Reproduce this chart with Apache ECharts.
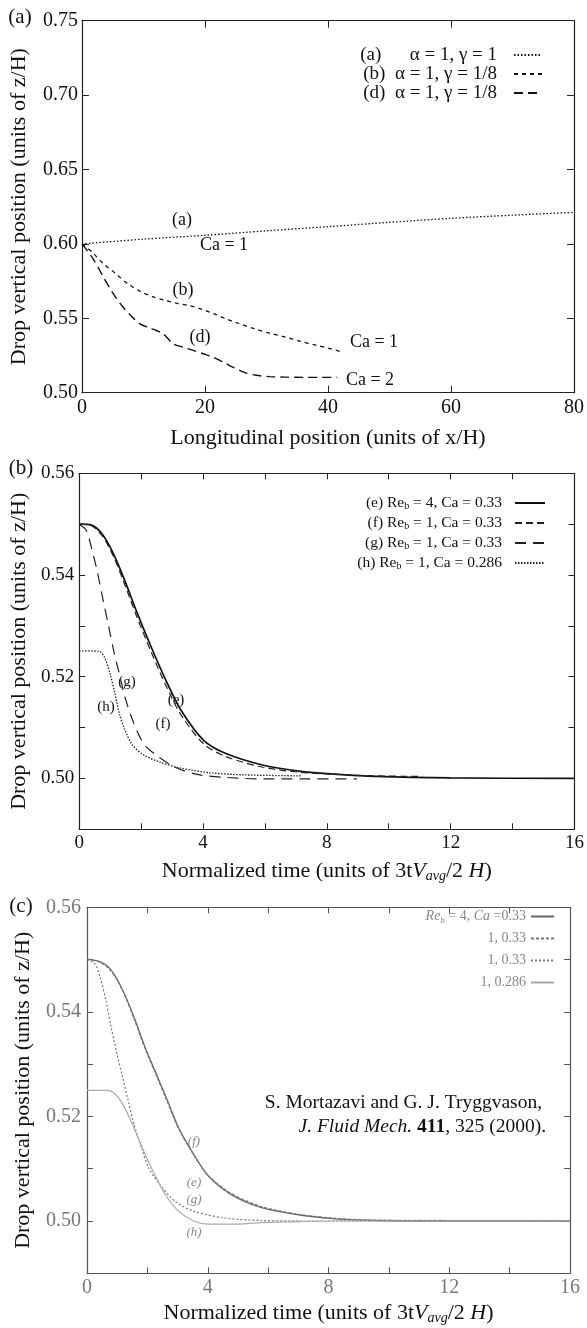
<!DOCTYPE html>
<html><head><meta charset="utf-8">
<script src="https://cdn.jsdelivr.net/npm/echarts@6/dist/echarts.min.js"></script>
<style>html,body{margin:0;padding:0;background:#fff}#c{width:587px;height:1328px}</style>
</head><body><div id="c"></div>
<script>
// ---------- Panel (a) data ----------
const aX_a = [0,10,20,30,40,50,60,70,80];
const aY_a = [0.600,0.6032,0.6058,0.6088,0.6116,0.6145,0.6172,0.6193,0.6212];
const aX_b = [0,1.5,3.5,5.5,7.5,9.5,11.5,13.5,15.5,17.5,19.5,21.5,23.5,25.5,28,30.5,33,35.5,38,40.5,42.5];
const aY_b = [0.600,0.5950,0.5866,0.5800,0.5730,0.5680,0.5645,0.5620,0.5600,0.5585,0.5560,0.5530,0.5495,0.5465,0.5430,0.5400,0.5375,0.5345,0.5320,0.5295,0.5270];
const aX_d = [0,1.8,3.5,5.1,6.7,8,9.4,11,12.1,13.2,14.8,16.5,18.1,19.7,21.3,23,24.5,26.5,28.3,30.5,33,36,39,41.5];
const aY_d = [0.600,0.590,0.5776,0.5664,0.5574,0.5515,0.5463,0.5435,0.5418,0.5396,0.5330,0.5305,0.5284,0.5262,0.5239,0.5205,0.5172,0.5135,0.5117,0.5108,0.5105,0.5103,0.5103,0.5103];
// ---------- Panel (b) data ----------
const bX_e = [0,0.4,0.76,1.12,1.48,1.85,2.33,2.81,3.29,4.02,4.74,5.95,7.16,8.36,9.57,12,16];
const bY_e = [0.550,0.5498,0.5479,0.544,0.5388,0.5329,0.5258,0.5192,0.5134,0.5075,0.5049,0.5026,0.5014,0.5008,0.5004,0.5001,0.500];
const bX_f = [0,0.4,0.76,1.12,1.48,1.85,2.33,2.81,3.29,4.02,4.74,5.95,7.16,8.36,9.57,11.1];
const bY_f = [0.550,0.5497,0.5476,0.5435,0.538,0.532,0.5248,0.5182,0.5125,0.5068,0.5043,0.5022,0.5012,0.5008,0.5005,0.5004];
const bX_g = [0,0.22,0.40,0.58,0.76,0.94,1.12,1.30,1.48,1.73,2.09,2.57,3.17,3.90,4.74,5.95,7.16,8.97];
const bY_g = [0.5499,0.5489,0.5453,0.5408,0.5355,0.5303,0.525,0.5205,0.516,0.5114,0.5068,0.5042,0.502,0.5007,0.5002,0.4999,0.4999,0.4999];
const bX_h = [0,0.64,0.82,1.0,1.16,1.30,1.48,1.73,2.09,2.57,3.29,4.26,5.35,7.16];
const bY_h = [0.5251,0.525,0.5238,0.5205,0.5166,0.5127,0.5095,0.5065,0.5046,0.5033,0.502,0.5011,0.5007,0.5005];
// ---------- Panel (c) data ----------
const cX_e = [0,0.43,0.80,1.18,1.55,1.92,2.29,2.66,3.03,3.53,4.02,4.77,5.76,7.0,8.24,9.47,12,16];
const cY_e = [0.5501,0.5496,0.548,0.5442,0.5391,0.5333,0.5282,0.5231,0.5179,0.5128,0.5086,0.5051,0.5026,0.5012,0.5004,0.5001,0.5,0.5];
const cX_f = [0,0.43,0.80,1.18,1.55,1.92,2.29,2.66,3.03,3.53,4.02,4.77,5.76,7.0,8.24,9.47,12,16];
const cY_f = [0.550,0.5495,0.5478,0.5440,0.5388,0.5330,0.5279,0.5228,0.5177,0.5127,0.5087,0.5053,0.5028,0.5013,0.5005,0.5002,0.5001,0.5];
const cX_g = [0,0.25,0.43,0.62,0.80,0.99,1.18,1.36,1.55,1.80,2.04,2.41,2.91,3.53,4.52,5.76,8,12,16];
const cY_g = [0.550,0.5493,0.5467,0.5423,0.5371,0.532,0.5275,0.5231,0.5186,0.5141,0.5102,0.507,0.5038,0.5019,0.5006,0.5001,0.5,0.5,0.5];
const cX_h = [0,0.68,0.93,1.18,1.55,1.92,2.29,2.66,3.03,3.53,4.02,4.77,5.76,7.0,8.24,12,16];
const cY_h = [0.525,0.525,0.5243,0.5224,0.5179,0.5128,0.5083,0.5045,0.5019,0.500,0.4994,0.4994,0.4997,0.4999,0.5,0.5,0.5];

const FONT = 'Liberation Serif';
const zip = (xs, ys) => xs.map((x, i) => [x, ys[i]]);

const grids = [
  {left: 82, top: 20.7, width: 493, height: 372},
  {left: 77.5, top: 473.3, width: 497.5, height: 356},
  {left: 87, top: 907.3, width: 483, height: 366}
];

const subRich = {
  i: {fontStyle: 'italic', fontFamily: FONT, fontSize: 22, color: '#111', lineHeight: 24},
  s: {fontStyle: 'italic', fontFamily: FONT, fontSize: 14, color: '#111', lineHeight: 14, verticalAlign: 'bottom'}
};

function makeAxes(gi, cfg) {
  const xs = [], ys = [];
  const lineC = cfg.lineColor, labC = cfg.labelColor;
  const common = {min: cfg.xMin, max: cfg.xMax, interval: cfg.xInt, type: 'value', gridIndex: gi,
    splitLine: {show: false},
    axisLine: {show: true, onZero: false, lineStyle: {color: lineC, width: 1.2}},
    axisTick: {show: true, inside: true, length: cfg.tick, lineStyle: {color: lineC, width: 1}}};
  xs.push(Object.assign({}, common, {position: 'bottom',
    axisLabel: {show: true, color: labC, fontFamily: FONT, fontSize: cfg.fs, margin: cfg.xMargin, formatter: cfg.xFmt},
    name: cfg.xName, nameLocation: 'middle', nameGap: cfg.xGap,
    nameTextStyle: {fontFamily: FONT, fontSize: 22, color: '#111', rich: subRich, lineHeight: 24}}));
  xs.push(Object.assign({}, common, {position: 'top', axisLabel: {show: false}}));
  const ycommon = {min: cfg.yMin, max: cfg.yMax, interval: cfg.yInt, type: 'value', gridIndex: gi,
    splitLine: {show: false},
    axisLine: {show: true, onZero: false, lineStyle: {color: lineC, width: 1.2}},
    axisTick: {show: true, inside: true, length: cfg.tick, lineStyle: {color: lineC, width: 1}}};
  ys.push(Object.assign({}, ycommon, {position: 'left',
    axisLabel: {show: true, color: labC, fontFamily: FONT, fontSize: cfg.fs, margin: cfg.yMargin, formatter: cfg.yFmt},
    name: 'Drop vertical position (units of z/H)', nameLocation: 'middle', nameGap: cfg.yGap,
    nameTextStyle: {fontFamily: FONT, fontSize: 22, color: '#111'}}));
  ys.push(Object.assign({}, ycommon, {position: 'right', axisLabel: {show: false}}));
  return {xs, ys};
}

const evenFmt = () => (v) => { const r = Math.round(v * 100); return (r % 2 === 0) ? (r / 100).toFixed(2) : ''; };
const ax0 = makeAxes(0, {xMin: 0, xMax: 80, xInt: 20, yMin: 0.5, yMax: 0.75, yInt: 0.05, tick: 7, fs: 20,
  lineColor: '#222', labelColor: '#111', xMargin: 5, yMargin: 4,
  xFmt: v => String(Math.round(v)), yFmt: v => v.toFixed(2),
  xName: 'Longitudinal position (units of x/H)', xGap: 34, yGap: 52});
const ax1 = makeAxes(1, {xMin: 0, xMax: 16, xInt: 2, yMin: 0.49, yMax: 0.56, yInt: 0.01, tick: 6, fs: 19,
  lineColor: '#222', labelColor: '#111', xMargin: 4, yMargin: 5,
  xFmt: v => (Math.round(v) % 4 === 0 ? String(Math.round(v)) : ''), yFmt: evenFmt(),
  xName: 'Normalized time (units of 3t{i|V}{s|avg}/2{i| H})', xGap: 30, yGap: 46});
const ax2 = makeAxes(2, {xMin: 0, xMax: 16, xInt: 2, yMin: 0.49, yMax: 0.56, yInt: 0.01, tick: 6, fs: 20,
  lineColor: '#555', labelColor: '#777', xMargin: 4, yMargin: 6,
  xFmt: v => (Math.round(v) % 4 === 0 ? String(Math.round(v)) : ''), yFmt: evenFmt(),
  xName: 'Normalized time (units of 3t{i|V}{s|avg}/2{i| H})', xGap: 28, yGap: 53});

function ser(name, gi, xs, ys, color, width, type) {
  return {name, type: 'line', xAxisIndex: gi * 2, yAxisIndex: gi * 2, data: zip(xs, ys),
    showSymbol: false, symbol: 'none', smooth: 0.3, silent: true,
    lineStyle: {color, width, type}, itemStyle: {color}};
}

const series = [
  ser('sa', 0, aX_a, aY_a, '#111', 1.3, [1.5, 2]),
  ser('sb', 0, aX_b, aY_b, '#111', 1.3, [4, 4]),
  ser('sd', 0, aX_d, aY_d, '#111', 1.4, [9, 5]),
  ser('se', 1, bX_e, bY_e, '#111', 1.7, 'solid'),
  ser('sf', 1, bX_f, bY_f, '#222', 1.2, [7, 4]),
  ser('sg', 1, bX_g, bY_g, '#222', 1.2, [11, 7]),
  ser('sh', 1, bX_h, bY_h, '#222', 1.3, [1.5, 1.5]),
  ser('ce', 2, cX_e, cY_e, '#666', 1.3, 'solid'),
  ser('cf', 2, cX_f, cY_f, '#777', 1.2, [3, 2]),
  ser('cg', 2, cX_g, cY_g, '#777', 1.2, [2, 2]),
  ser('ch', 2, cX_h, cY_h, '#aaa', 1.2, 'solid')
];

const legendText = {
  sa: '(a)      α = 1, γ = 1',
  sb: '(b)  α = 1, γ = 1/8',
  sd: '(d)  α = 1, γ = 1/8',
  se: '(e) Re{s|b} = 4, Ca = 0.33',
  sf: '(f) Re{s|b} = 1, Ca = 0.33',
  sg: '(g) Re{s|b} = 1, Ca = 0.33',
  sh: '(h) Re{s|b} = 1, Ca = 0.286',
  ce: '{i|Re}{s|b} = 4, {i|Ca} =0.33',
  cf: '1, 0.33',
  cg: '1, 0.33',
  ch: '1, 0.286'
};
const fmt = n => legendText[n];

const legends = [
  {data: ['sa', 'sb', 'sd'], orient: 'vertical', align: 'right', right: 44, top: 45.5, padding: 0,
   itemWidth: 28, itemHeight: 12, itemGap: 0, formatter: fmt, selectedMode: false,
   itemStyle: {opacity: 0},
   textStyle: {fontFamily: FONT, fontSize: 19, color: '#111', lineHeight: 19, padding: [0, 12, 0, 0]}},
  {data: ['se', 'sf', 'sg', 'sh'], orient: 'vertical', align: 'right', right: 41, top: 494.5, padding: 0,
   itemWidth: 30, itemHeight: 14, itemGap: 3, formatter: fmt, selectedMode: false,
   itemStyle: {opacity: 0},
   textStyle: {fontFamily: FONT, fontSize: 15.5, color: '#111', lineHeight: 17, padding: [0, 8, 0, 0],
     rich: {s: {fontFamily: FONT, fontSize: 10, lineHeight: 10, verticalAlign: 'bottom', color: '#111'}}}},
  {data: ['ce', 'cf', 'cg', 'ch'], orient: 'vertical', align: 'right', right: 32, top: 907.5, padding: 0,
   itemWidth: 23, itemHeight: 14, itemGap: 4, formatter: fmt, selectedMode: false,
   itemStyle: {opacity: 0},
   textStyle: {fontFamily: FONT, fontSize: 14, color: '#888', lineHeight: 18,
     rich: {i: {fontFamily: FONT, fontStyle: 'italic', fontSize: 14, color: '#888', lineHeight: 18},
            s: {fontFamily: FONT, fontStyle: 'italic', fontSize: 9, lineHeight: 9, verticalAlign: 'bottom', color: '#888'}}}}
];

function txt(x, y, text, size, opts) {
  return {type: 'text', x, y, silent: true, style: Object.assign({text, fontFamily: FONT, fontSize: size,
    fill: '#111', align: 'center', verticalAlign: 'middle'}, opts || {})};
}

const graphics = [
  txt(20, 17, '(a)', 21),
  txt(21, 468, '(b)', 21),
  txt(21, 906, '(c)', 21),
  txt(182, 220, '(a)', 18),
  txt(224, 245, 'Ca = 1', 18),
  txt(183, 290, '(b)', 18),
  txt(200, 337, '(d)', 18),
  txt(374, 342, 'Ca = 1', 18),
  txt(370, 380, 'Ca = 2', 18),
  txt(176, 700, '(e)', 15),
  txt(163, 724, '(f)', 15),
  txt(127, 682, '(g)', 15),
  txt(106, 707, '(h)', 15),
  txt(194, 1142, '(f)', 13, {fill: '#888', fontStyle: 'italic'}),
  txt(194, 1183, '(e)', 13, {fill: '#888', fontStyle: 'italic'}),
  txt(194, 1200, '(g)', 13, {fill: '#888', fontStyle: 'italic'}),
  txt(194, 1233, '(h)', 13, {fill: '#888', fontStyle: 'italic'}),
  txt(542, 1103, 'S. Mortazavi and G. J. Tryggvason,', 19.5, {align: 'right'}),
  {type: 'text', x: 546, y: 1127, silent: true, style: {
    text: '{i|J. Fluid Mech.} {b|411}, 325 (2000).', fontFamily: FONT, fontSize: 19.5, fill: '#111',
    align: 'right', verticalAlign: 'middle',
    rich: {i: {fontFamily: FONT, fontStyle: 'italic', fontSize: 19.5, fill: '#111'},
           b: {fontFamily: FONT, fontWeight: 'bold', fontSize: 19.5, fill: '#111'}}}}
];

const chart = echarts.init(document.getElementById('c'), null, {renderer: 'canvas'});
chart.setOption({
  animation: false,
  backgroundColor: '#fff',
  grid: grids,
  xAxis: [...ax0.xs, ...ax1.xs, ...ax2.xs],
  yAxis: [...ax0.ys, ...ax1.ys, ...ax2.ys],
  legend: legends,
  series,
  graphic: graphics
});
</script>
</body></html>
